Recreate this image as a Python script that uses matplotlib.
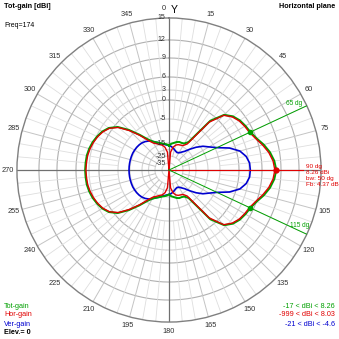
import numpy as np
import matplotlib
matplotlib.use('Agg')
import matplotlib.pyplot as plt

plt.rcParams['font.family'] = ['Liberation Sans', 'DejaVu Sans']

# pattern in dBi, 5 degree steps, 0 = +Y, clockwise
angles = np.arange(0, 360, 5)
tot_gain = [
    -17, -15.5, -14.8, -14.2, -13.8, -13.8, -13.5, -12, -1.5, 2.4, 3.8, 4.5,
    4.9, 5.26, 6.0, 6.8, 7.5, 8.0, 8.26, 8.0, 7.5, 6.8, 6.0, 5.26,
    4.9, 4.5, 3.8, 2.4, -1.5, -12, -13.5, -13.8, -13.8, -14.2, -14.8, -15.5,
    -17, -16, -15.3, -14.8, -14.2, -13.5, -12.5, -10.5, -7, -3.5, -0.8, 1.0,
    2.1, 2.8, 3.3, 3.6, 3.8, 3.85, 3.89, 3.85, 3.8, 3.6, 3.3, 2.8,
    2.1, 1.0, -0.8, -3.5, -7, -10.5, -12.5, -13.5, -14.2, -14.8, -15.3, -16,
]
hor_gain = [
    -999, -22, -18, -16, -15, -14.8, -14.5, -13, -2.0, 2.2, 3.6, 4.3,
    4.7, 5.05, 5.8, 6.6, 7.3, 7.8, 8.03, 7.8, 7.3, 6.6, 5.8, 5.05,
    4.7, 4.3, 3.6, 2.2, -2.0, -13, -14.5, -14.8, -15, -16, -18, -22,
    -999, -22, -18, -16, -15, -14.2, -13.3, -11.2, -7.5, -3.8, -1.0, 0.8,
    1.9, 2.6, 3.1, 3.4, 3.6, 3.65, 3.7, 3.65, 3.6, 3.4, 3.1, 2.6,
    1.9, 0.8, -1.0, -3.8, -7.5, -11.2, -13.3, -14.2, -15, -16, -18, -22,
]
ver_gain = [
    -17, -17.5, -18.5, -19.5, -20.5, -21, -20.5, -19, -17, -14, -11.5, -9,
    -7, -4.5, -1.5, 1, 2.5, 3.2, 3.3, 3.2, 2.5, 1, -1.5, -4.5,
    -7, -9, -11.5, -14, -17, -19, -20.5, -21, -20.5, -19.5, -18.5, -17.5,
    -17, -16.5, -15.8, -15, -14.2, -13.5, -12.5, -11.5, -10.8, -10.3, -10, -9.8,
    -9.7, -9.6, -9.6, -9.6, -9.6, -9.6, -9.6, -9.6, -9.6, -9.6, -9.6, -9.6,
    -9.7, -9.8, -10, -10.3, -10.8, -11.5, -12.5, -13.5, -14.2, -15, -15.8, -16.5,
]
ring_labels = [15, 12, 9, 6, 3, 0, -5, -15, -25, -35]
theta_ticks = [a for a in range(15, 360, 15) if a != 90]

peak_angle = 90
peak_gain = 8.26
bw_left, bw_right = 65, 115
fb_ratio = 4.37

# radial scale of the plot (dB -> pixels from centre)
knot_db = [-45, -35, -25, -15, -5, 0, 3, 6, 9, 12, 15]
knot_r = [0, 7, 14, 27, 51, 70, 80, 93, 112, 130, 152]


def fwd(v):
    return np.interp(v, knot_db, knot_r)


def inv(r):
    return np.interp(r, knot_r, knot_db)


GREEN = '#00a000'
RED = '#e00000'
BLUE = '#0000d0'
LABEL = '#303030'
FS = 5.0

fig = plt.figure(figsize=(3.39, 3.39), dpi=100)
ax = fig.add_axes([0.05, 0.05, 0.897, 0.897], projection='polar')
ax.set_theta_zero_location('N')
ax.set_theta_direction(-1)
ax.set_rscale('function', functions=(fwd, inv))
ax.set_rlim(-45, 15)
ax.grid(False)
ax.set_yticks([])
ax.set_xticks([])
ax.spines['polar'].set_color('#808080')
ax.spines['polar'].set_linewidth(1.0)

full = np.linspace(0, 2 * np.pi, 361)
for v in [12, 9, 6, 3, 0, -5, -10, -15, -20, -25, -35]:
    c = '#b0b0b0' if v in (12, 9, 6, 0) else '#d4d4d4'
    ax.plot(full, [v] * len(full), color=c, lw=0.8, zorder=1)

for a in range(0, 360, 5):
    t = np.deg2rad(a)
    if a % 15 == 0:
        ax.plot([t, t], [-25, 15], color='#c4c4c4', lw=0.7, zorder=1)
    else:
        ax.plot([t, t], [-5, 15], color='#dedede', lw=0.6, zorder=1)

# main axes through the centre
for a in (0, 180, 90, 270):
    t = np.deg2rad(a)
    ax.plot([t, t], [-45, 15], color='#707070', lw=0.9, zorder=2)

th = np.deg2rad(np.append(angles, 360))


def closed(vals):
    return np.append(vals, vals[0])


ax.plot(th, closed(ver_gain), color=BLUE, lw=1.2, zorder=4)
ax.plot(th, closed(tot_gain), color=GREEN, lw=1.4, zorder=5)
ax.plot(th, closed(hor_gain), color=RED, lw=1.0, zorder=6)

# peak and beamwidth markers
tp = np.deg2rad(peak_angle)
ax.plot([tp, tp], [-45, 12.5], color=RED, lw=0.8, zorder=7)
ax.plot([tp], [peak_gain], 'o', color=RED, ms=3.5, zorder=8)
for a in (bw_left, bw_right):
    t = np.deg2rad(a)
    ax.plot([t, t], [-45, 15], color=GREEN, lw=0.7, zorder=7)
    ax.plot([t], [peak_gain - 3], 'o', color=GREEN, ms=3, zorder=8)
ax.text(np.deg2rad(bw_left - 3), 13.6, '%d dg' % bw_left, color=GREEN,
        fontsize=FS - 0.3, ha='center', va='center')
ax.text(np.deg2rad(bw_right - 2), 13.6, '%d dg' % bw_right, color=GREEN,
        fontsize=FS - 0.3, ha='center', va='center')

# angle labels just outside the rim
for a in theta_ticks:
    t = np.deg2rad(a)
    ax.annotate(str(a), (t, 15), xytext=(6.5 * np.sin(t), 6.5 * np.cos(t)),
                textcoords='offset points', ha='center', va='center',
                fontsize=FS + 0.3, color=LABEL, annotation_clip=False)
ax.annotate('0', (0, 15), xytext=(-4, 7), textcoords='offset points',
            ha='center', va='center', fontsize=FS + 0.3, color=LABEL,
            annotation_clip=False)
ax.annotate('Y', (0, 15), xytext=(4, 5.5), textcoords='offset points',
            ha='center', va='center', fontsize=7.5, color='black',
            annotation_clip=False)

for v in ring_labels:
    ax.annotate(str(v), (0, v), xytext=(-2.5, 0), textcoords='offset points',
                fontsize=FS, color=LABEL, ha='right', va='center', zorder=9)

fig.text(0.012, 0.982, 'Tot-gain [dBi]', fontsize=FS + 0.2, weight='bold', va='center')
fig.text(0.012, 0.925, 'Freq=174', fontsize=FS, va='center')
fig.text(0.988, 0.982, 'Horizontal plane', fontsize=FS + 0.2, weight='bold',
         ha='right', va='center')

fig.text(0.904, 0.483, '%d dg\n%.2f dBi\nbw: %d dg\nFb: %.2f dB'
         % (peak_angle, peak_gain, bw_right - bw_left, fb_ratio),
         color=RED, fontsize=4.6, va='center', ha='left', linespacing=1.25)

fig.text(0.012, 0.097, 'Tot-gain', color=GREEN, fontsize=FS + 0.2, va='center')
fig.text(0.012, 0.071, 'Hor-gain', color=RED, fontsize=FS + 0.2, va='center')
fig.text(0.012, 0.044, 'Ver-gain', color=BLUE, fontsize=FS + 0.2, va='center')
fig.text(0.012, 0.018, 'Elev.= 0', color='black', fontsize=FS + 0.2, weight='bold',
         va='center')

fig.text(0.988, 0.097, '%d < dBi < %.2f' % (min(tot_gain), max(tot_gain)),
         color=GREEN, fontsize=FS + 0.2, ha='right', va='center')
fig.text(0.988, 0.071, '%d < dBi < %.2f' % (min(hor_gain), max(hor_gain)),
         color=RED, fontsize=FS + 0.2, ha='right', va='center')
fig.text(0.988, 0.044, '-21 < dBi < -4.6', color=BLUE,
         fontsize=FS + 0.2, ha='right', va='center')

fig.savefig('out.png', dpi=100, facecolor='white')
